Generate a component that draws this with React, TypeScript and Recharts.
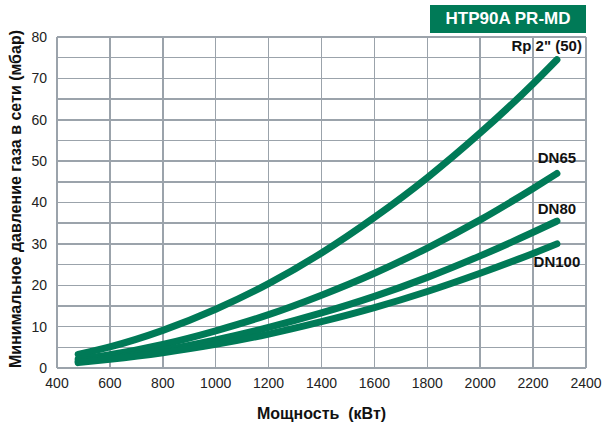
import React from 'react';
import { LineChart, Line, XAxis, YAxis, ReferenceLine } from 'recharts';

const powerKW = [480, 600, 800, 1000, 1200, 1400, 1600, 1800, 2000, 2200, 2290];
const rp2 = [3.3, 5.1, 9.1, 14.2, 20.4, 27.8, 36.4, 46.0, 56.8, 68.7, 74.5];
const dn65 = [2.1, 3.2, 5.7, 9.0, 12.9, 17.6, 22.9, 29.0, 35.8, 43.4, 47.0];
const dn80 = [1.6, 2.4, 4.3, 6.8, 9.8, 13.3, 17.3, 21.9, 27.1, 32.8, 35.5];
const dn100 = [1.3, 2.1, 3.7, 5.7, 8.2, 11.2, 14.6, 18.5, 22.9, 27.7, 30.0];

const xTicks = [400, 600, 800, 1000, 1200, 1400, 1600, 1800, 2000, 2200, 2400];
const yTicks = [0, 10, 20, 30, 40, 50, 60, 70, 80];
const yGrid = [5, 10, 15, 20, 25, 30, 35, 40, 45, 50, 55, 60, 65, 70, 75, 80];
const xGrid = [600, 800, 1000, 1200, 1400, 1600, 1800, 2000, 2200, 2400];

const seriesNames = ['Rp 2" (50)', 'DN65', 'DN80', 'DN100'];
const seriesKeys = ['rp2', 'dn65', 'dn80', 'dn100'];

const data = powerKW.map((p, i) => ({ p, rp2: rp2[i], dn65: dn65[i], dn80: dn80[i], dn100: dn100[i] }));

const GREEN = '#007a57';
const GRID = '#9ba3ab';
const FONT = '"Liberation Sans", Arial, sans-serif';

const labelCfg: Record<string, { dx: number; dy: number; anchor: string }> = {
  rp2: { dx: 25, dy: -14, anchor: 'end' },
  dn65: { dx: 0, dy: -16, anchor: 'middle' },
  dn80: { dx: 0, dy: -13, anchor: 'middle' },
  dn100: { dx: 0, dy: 18, anchor: 'middle' },
};

const makeLabel = (key: string, name: string) => (props: any) => {
  const { x, y, index } = props;
  if (index !== powerKW.length - 1) return null;
  const c = labelCfg[key];
  return (
    <text x={x + c.dx} y={y + c.dy} textAnchor={c.anchor} dominantBaseline="central"
      fontFamily={FONT} fontWeight="bold" fontSize={15} fill="#111">{name}</text>
  );
};

const YLabel = () => (
  <text x={15} y={199} transform="rotate(-90 15 199)" textAnchor="middle" dominantBaseline="central"
    fontFamily={FONT} fontWeight="bold" fontSize={16} fill="#111">Минимальное давление газа в сети (мбар)</text>
);

export default function App() {
  return (
    <div style={{ position: 'absolute', left: 0, top: 0, width: 603, height: 423 }}>
      <div style={{ position: 'absolute', left: 430, top: 5, width: 156, height: 28, background: '#007a57', color: '#fff', fontFamily: FONT, fontWeight: 'bold', fontSize: 17, lineHeight: '28px', textAlign: 'center', zIndex: 2 }}>HTP90A PR-MD</div>
      <LineChart width={603} height={423} data={data} margin={{ top: 37, right: 17, bottom: 0, left: 0 }}>
        {yGrid.map((v) => (
          <ReferenceLine key={'h' + v} y={v} stroke={GRID} strokeWidth={1.5} shapeRendering="crispEdges" />
        ))}
        {xGrid.map((v) => (
          <ReferenceLine key={'v' + v} x={v} stroke={GRID} strokeWidth={1.5} shapeRendering="crispEdges" />
        ))}
        <XAxis dataKey="p" type="number" domain={[400, 2400]} ticks={xTicks} height={55} stroke={GRID}
          axisLine={{ stroke: GRID, strokeWidth: 1.5, shapeRendering: 'crispEdges' }}
          tickLine={false} tick={{ fill: '#222', fontSize: 14, fontFamily: FONT }} tickMargin={4}
          label={{ value: 'Мощность\u00a0\u00a0(кВт)', position: 'insideBottom', offset: 4, style: { fontFamily: FONT, fontWeight: 'bold', fontSize: 16, fill: '#111' } }} />
        <YAxis type="number" domain={[0, 80]} ticks={yTicks} width={57} stroke={GRID}
          axisLine={{ stroke: GRID, strokeWidth: 1.5, shapeRendering: 'crispEdges' }} tickLine={false}
          tick={{ fill: '#222', fontSize: 14, fontFamily: FONT }} tickMargin={4}
          label={<YLabel />} />
        {seriesKeys.map((k, i) => (
          <Line key={k} dataKey={k} type="monotone" stroke={GREEN} strokeWidth={7} strokeLinecap="round"
            dot={false} activeDot={false} isAnimationActive={false} label={makeLabel(k, seriesNames[i])} />
        ))}
      </LineChart>
    </div>
  );
}
